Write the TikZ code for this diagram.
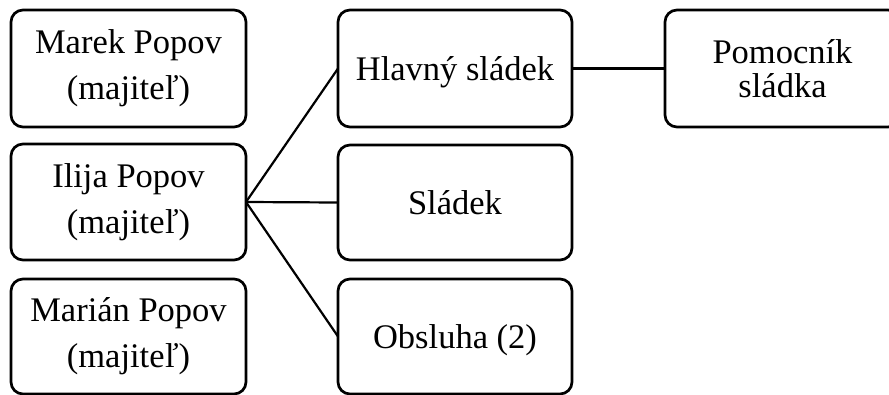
\documentclass[tikz,border=0pt]{standalone}
\usepackage{fontspec}
\setmainfont{Liberation Serif}
\begin{document}
\begin{tikzpicture}[x=1pt,y=-1pt,
  box/.style={draw=black, line width=2.7pt, rounded corners=12pt, inner sep=0pt, outer sep=0pt,
    minimum width=235pt, minimum height=117pt, align=center,
    font=\fontsize{34.5}{46}\selectfont},
  oneline/.style={text height=24pt, text depth=0.8pt},
  link/.style={draw=black, line width=2.2pt}]
\useasboundingbox (0,0) rectangle (889,394);
\clip (0,0) rectangle (889,394);
\node[box] (marek) at (128.5,68.5) {Marek Popov\\(majiteľ)};
\node[box, minimum height=116pt] (ilija) at (128.5,202) {Ilija Popov\\(majiteľ)};
\node[box, minimum height=115pt] (marian) at (128.5,336.5) {Marián Popov\\(majiteľ)};
\node[box, oneline, minimum width=234pt] (hlavny) at (455,68.5) {Hlavný sládek};
\node[box, oneline, minimum width=234pt, minimum height=115pt] (sladek) at (455,202.5) {Sládek};
\node[box, oneline, minimum width=234pt, minimum height=115pt] (obsluha) at (455,336.5) {Obsluha (2)};
\node[box, font=\fontsize{34.5}{34}\selectfont] (pomocnik) at (782.5,68.5) {Pomocník\\sládka};
\draw[link] (ilija.east) -- (hlavny.west);
\draw[link] (ilija.east) -- (sladek.west);
\draw[link] (ilija.east) -- (obsluha.west);
\draw[link] (hlavny.east) -- (pomocnik.west);
\end{tikzpicture}
\end{document}
